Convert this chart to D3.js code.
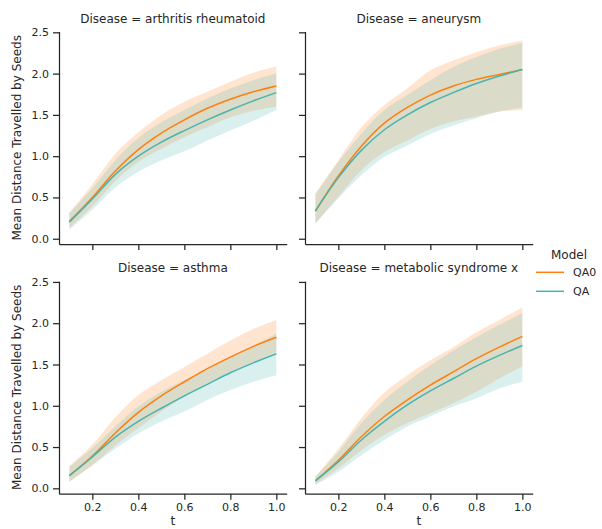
<!DOCTYPE html>
<html>
<head>
<meta charset="utf-8">
<script src="https://cdn.jsdelivr.net/npm/d3@7"></script>
<style>
  body { margin: 0; background: #fff; }
  svg { font-family: "DejaVu Sans", sans-serif; }
</style>
</head>
<body>
<div id="chart"></div>
<script>
const width = 602;
const height = 529;

const tValues = [0.1, 0.2, 0.3, 0.4, 0.5, 0.6, 0.7, 0.8, 0.9, 1.0];
const diseases = ["arthritis rheumatoid", "aneurysm", "asthma", "metabolic syndrome x"];
const models = ["QA0", "QA"];
const yTicks = [0.0, 0.5, 1.0, 1.5, 2.0, 2.5];
const xTicks = [0.2, 0.4, 0.6, 0.8, 1.0];

// arthritis rheumatoid
const arthritisQA0 = [0.21, 0.50, 0.82, 1.08, 1.28, 1.44, 1.58, 1.69, 1.78, 1.85];
const arthritisQA0Lo = [0.13, 0.39, 0.70, 0.93, 1.09, 1.23, 1.35, 1.47, 1.55, 1.60];
const arthritisQA0Hi = [0.31, 0.66, 1.03, 1.29, 1.50, 1.66, 1.78, 1.90, 2.01, 2.09];
const arthritisQA = [0.20, 0.48, 0.78, 1.00, 1.17, 1.31, 1.44, 1.56, 1.67, 1.77];
const arthritisQALo = [0.11, 0.35, 0.62, 0.81, 0.95, 1.06, 1.19, 1.31, 1.43, 1.56];
const arthritisQAHi = [0.31, 0.61, 0.95, 1.22, 1.41, 1.56, 1.70, 1.82, 1.92, 2.00];

// aneurysm
const aneurysmQA0 = [0.335, 0.76, 1.12, 1.40, 1.59, 1.74, 1.85, 1.93, 1.99, 2.05];
const aneurysmQA0Lo = [0.185, 0.51, 0.83, 1.05, 1.19, 1.33, 1.42, 1.48, 1.54, 1.56];
const aneurysmQA0Hi = [0.55, 0.95, 1.35, 1.62, 1.82, 2.04, 2.16, 2.26, 2.34, 2.40];
const aneurysmQA = [0.335, 0.74, 1.07, 1.32, 1.50, 1.65, 1.77, 1.88, 1.97, 2.05];
const aneurysmQALo = [0.18, 0.49, 0.77, 0.99, 1.13, 1.27, 1.37, 1.46, 1.54, 1.59];
const aneurysmQAHi = [0.53, 0.93, 1.27, 1.56, 1.74, 1.92, 2.08, 2.20, 2.30, 2.37];

// asthma
const asthmaQA0 = [0.153, 0.39, 0.67, 0.92, 1.12, 1.29, 1.45, 1.59, 1.72, 1.83];
const asthmaQA0Lo = [0.08, 0.28, 0.52, 0.73, 0.93, 1.11, 1.27, 1.41, 1.53, 1.65];
const asthmaQA0Hi = [0.27, 0.53, 0.86, 1.13, 1.31, 1.47, 1.63, 1.79, 1.93, 2.04];
const asthmaQA = [0.153, 0.38, 0.62, 0.81, 0.97, 1.12, 1.26, 1.40, 1.52, 1.63];
const asthmaQALo = [0.08, 0.28, 0.48, 0.665, 0.81, 0.93, 1.07, 1.19, 1.29, 1.37];
const asthmaQAHi = [0.26, 0.49, 0.75, 0.99, 1.17, 1.31, 1.44, 1.59, 1.72, 1.875];

// metabolic syndrome x
const metabolicQA0 = [0.09, 0.34, 0.625, 0.87, 1.07, 1.25, 1.41, 1.57, 1.71, 1.84];
const metabolicQA0Lo = [0.05, 0.24, 0.46, 0.645, 0.79, 0.91, 1.03, 1.17, 1.33, 1.48];
const metabolicQA0Hi = [0.14, 0.48, 0.85, 1.16, 1.37, 1.55, 1.71, 1.89, 2.04, 2.19];
const metabolicQA = [0.09, 0.32, 0.585, 0.81, 1.01, 1.18, 1.33, 1.48, 1.61, 1.73];
const metabolicQALo = [0.04, 0.20, 0.40, 0.585, 0.75, 0.87, 0.99, 1.09, 1.21, 1.29];
const metabolicQAHi = [0.14, 0.44, 0.79, 1.07, 1.29, 1.49, 1.67, 1.83, 1.98, 2.12];

const colors = { QA0: "#ff7f0e", QA: "#48b4ae" };
const ink = "#262626";

const panels = [
    { name: diseases[0], col: 0, row: 0, series: {
        QA0: [arthritisQA0, arthritisQA0Lo, arthritisQA0Hi], QA: [arthritisQA, arthritisQALo, arthritisQAHi] } },
    { name: diseases[1], col: 1, row: 0, series: {
        QA0: [aneurysmQA0, aneurysmQA0Lo, aneurysmQA0Hi], QA: [aneurysmQA, aneurysmQALo, aneurysmQAHi] } },
    { name: diseases[2], col: 0, row: 1, series: {
        QA0: [asthmaQA0, asthmaQA0Lo, asthmaQA0Hi], QA: [asthmaQA, asthmaQALo, asthmaQAHi] } },
    { name: diseases[3], col: 1, row: 1, series: {
        QA0: [metabolicQA0, metabolicQA0Lo, metabolicQA0Hi], QA: [metabolicQA, metabolicQALo, metabolicQAHi] } }
];

const svg = d3.select("#chart")
    .append("svg")
    .attr("width", width)
    .attr("height", height);

// panel geometry
const left0 = 59, panelW = 227.7, colStep = 246;
const top0 = 31.5, panelH = 212.6, rowStep = 249.6;

const x = d3.scaleLinear().domain([0.055, 1.045]).range([0, panelW]);
const y = d3.scaleLinear().domain([-0.065, 2.51]).range([panelH, 0]);

function drawPanel(p) {
    const g = svg.append("g")
        .attr("transform", `translate(${left0 + p.col * colStep},${top0 + p.row * rowStep})`);

    // bands first, then lines on top
    models.forEach(m => {
        const [mid, lo, hi] = p.series[m];
        const area = d3.area()
            .x((d, i) => x(tValues[i]))
            .y0((d, i) => y(lo[i]))
            .y1((d, i) => y(hi[i]))
            .curve(d3.curveCatmullRom);
        g.append("path")
            .datum(mid)
            .attr("d", area)
            .attr("fill", colors[m])
            .attr("fill-opacity", 0.2);
    });
    models.forEach(m => {
        const mid = p.series[m][0];
        const line = d3.line()
            .x((d, i) => x(tValues[i]))
            .y(d => y(d))
            .curve(d3.curveCatmullRom);
        g.append("path")
            .datum(mid)
            .attr("d", line)
            .attr("fill", "none")
            .attr("stroke", colors[m])
            .attr("stroke-width", 1.5);
    });

    const yAxis = g.append("g")
        .call(d3.axisLeft(y).tickValues(yTicks).tickFormat(d3.format(".1f")).tickSize(6).tickSizeOuter(0).tickPadding(4));
    const xAxis = g.append("g")
        .attr("transform", `translate(0,${panelH})`)
        .call(d3.axisBottom(x).tickValues(xTicks).tickFormat(d3.format(".1f")).tickSize(6).tickSizeOuter(0).tickPadding(4));

    [xAxis, yAxis].forEach(a => {
        a.selectAll("path, line").attr("stroke", ink).attr("stroke-width", 1.25);
        a.selectAll("text").attr("fill", ink).style("font-size", "11px").style("font-family", "DejaVu Sans");
    });
    if (p.row === 0) xAxis.selectAll("text").remove();
    if (p.col === 1) yAxis.selectAll("text").remove();

    g.append("text")
        .attr("x", panelW / 2)
        .attr("y", -9)
        .attr("text-anchor", "middle")
        .attr("fill", ink)
        .style("font-size", "12px")
        .text(`Disease = ${p.name}`);

    if (p.col === 0) {
        g.append("text")
            .attr("transform", `translate(-38,${panelH / 2}) rotate(-90)`)
            .attr("text-anchor", "middle")
            .attr("fill", ink)
            .style("font-size", "12px")
            .text("Mean Distance Travelled by Seeds");
    }
    if (p.row === 1) {
        g.append("text")
            .attr("x", x(0.55))
            .attr("y", panelH + 31.5)
            .attr("text-anchor", "middle")
            .attr("fill", ink)
            .style("font-size", "12px")
            .text("t");
    }
}

panels.forEach(drawPanel);

// legend
const legend = svg.append("g").attr("transform", "translate(536,0)");
legend.append("text")
    .attr("x", 33)
    .attr("y", 258.5)
    .attr("text-anchor", "middle")
    .attr("fill", ink)
    .style("font-size", "12px")
    .text("Model");
models.forEach((m, i) => {
    const ly = 272.3 + i * 19;
    legend.append("line")
        .attr("x1", 0).attr("x2", 28)
        .attr("y1", ly).attr("y2", ly)
        .attr("stroke", colors[m])
        .attr("stroke-width", 1.5);
    legend.append("text")
        .attr("x", 37)
        .attr("y", ly + 4)
        .attr("fill", ink)
        .style("font-size", "11px")
        .text(m);
});
</script>
</body>
</html>
